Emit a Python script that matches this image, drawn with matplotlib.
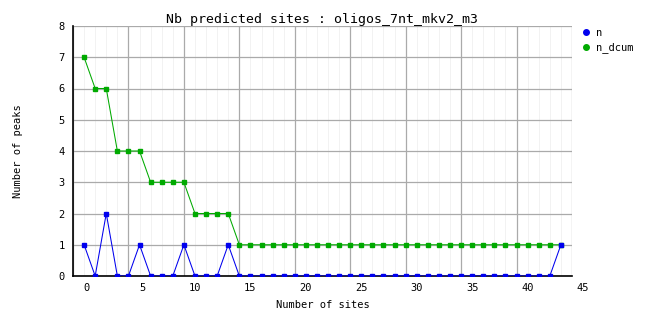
import numpy as np
import matplotlib
matplotlib.use("Agg")
import matplotlib.pyplot as plt
from matplotlib.lines import Line2D
import matplotlib.transforms as mtransforms

# data
sites = list(range(0, 44))
n = [1, 0, 2, 0, 0, 1, 0, 0, 0, 1, 0, 0, 0, 1] + [0] * 29 + [1]
n_dcum = [7, 6, 6, 4, 4, 4, 3, 3, 3, 3, 2, 2, 2, 2] + [1] * 30
xtick_labels = [0, 5, 10, 15, 20, 25, 30, 35, 40, 45]
ytick_labels = [0, 1, 2, 3, 4, 5, 6, 7, 8]

blue = "#0000ee"
green = "#00aa00"
font = "DejaVu Sans Mono"
plt.rcParams['font.family'] = [font]

fig = plt.figure(figsize=(6.62, 3.28), dpi=100)
ax = fig.add_axes([73/662, 1-276/328, (572-73)/662, (276-26)/328])

ax.set_xlim(-1, 44)
ax.set_ylim(0, 8)

# grid: light lines every site, darker every 5 (offset like the original)
for x in range(-1, 45):
    major = (x + 1) % 5 == 0
    ax.axvline(x, color="#aaaaaa" if major else "#f2f2f2", lw=0.9 if major else 0.7,
               zorder=1 if major else 0, snap=True)
for y in ytick_labels:
    ax.axhline(y, color="#aaaaaa", lw=0.9, zorder=1, snap=True)

ax.plot(sites, n_dcum, color=green, lw=0.75, marker="s", ms=2.2, mec=green, zorder=3)
ax.plot(sites, n, color=blue, lw=0.75, marker="s", ms=2.2, mec=blue, zorder=4)

for s in ["top", "right"]:
    ax.spines[s].set_visible(False)
for s in ["left", "bottom"]:
    ax.spines[s].set_color("black")
    ax.spines[s].set_linewidth(1.2)
    ax.spines[s].set_zorder(2)

ax.set_xticks([])
ax.set_yticks(ytick_labels)
ax.set_yticklabels([str(v) for v in ytick_labels], fontsize=7.5)
ax.tick_params(axis="y", length=0, pad=6)

trans = mtransforms.blended_transform_factory(ax.transData, ax.transAxes)
for v in xtick_labels:
    off = 0.25 if v < 10 else 0
    ax.text(v + off, -0.048, str(v), transform=trans, ha="center", va="center",
            fontsize=7.5, clip_on=False)

ax.set_xlabel("Number of sites", fontsize=7.5, labelpad=17)
fig.text(18/662, 1-151/328, "Number of peaks", rotation=90, ha="center", va="center",
         fontsize=7.5)
ax.set_title("Nb predicted sites : oligos_7nt_mkv2_m3", fontsize=9.5, pad=2.5)

handles = [Line2D([], [], color=blue, marker="o", ls="", ms=4),
           Line2D([], [], color=green, marker="o", ls="", ms=4)]
ax.legend(handles, ["n", "n_dcum"], loc="upper left", bbox_to_anchor=(1.0, 1.03),
          frameon=False, fontsize=7.5, handlelength=0.8, handletextpad=0.6,
          labelspacing=0.45, borderaxespad=0.5)

fig.savefig("out.png", dpi=100)
